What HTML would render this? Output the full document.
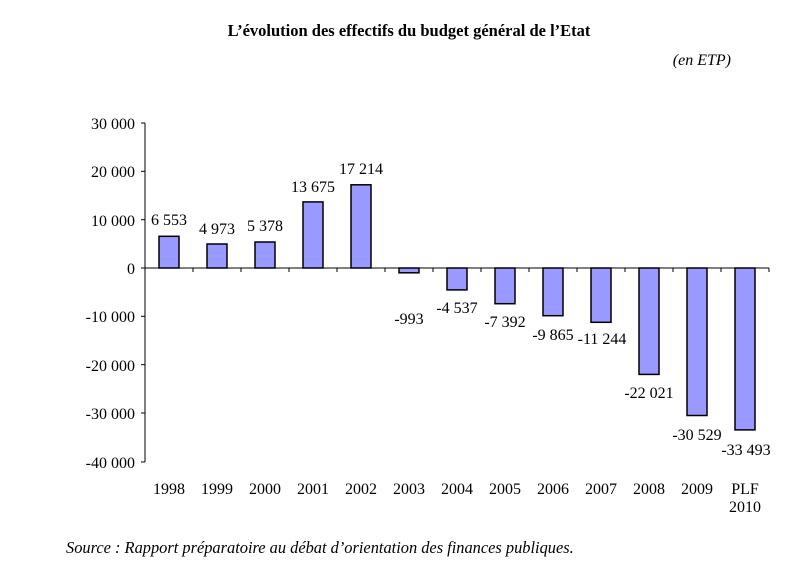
<!DOCTYPE html>
<html><head><meta charset="utf-8"><style>
body{margin:0;background:#fff;}
svg text{font-family:"Liberation Serif",serif;font-size:16px;fill:#000;}
</style></head><body>
<svg width="802" height="579" viewBox="0 0 802 579" xmlns="http://www.w3.org/2000/svg">
<rect width="802" height="579" fill="#fff"/>
<text x="409" y="36" text-anchor="middle" style="font-weight:bold;font-size:16.5px">L’évolution des effectifs du budget général de l’Etat</text>
<text x="731" y="65" text-anchor="end" style="font-style:italic">(en ETP)</text>
<g stroke="#000" stroke-width="1">
<line x1="145" y1="123" x2="145" y2="462"/>
<line x1="141" y1="123" x2="145" y2="123"/>
<line x1="141" y1="171.3" x2="145" y2="171.3"/>
<line x1="141" y1="219.7" x2="145" y2="219.7"/>
<line x1="141" y1="268" x2="145" y2="268"/>
<line x1="141" y1="316.3" x2="145" y2="316.3"/>
<line x1="141" y1="364.7" x2="145" y2="364.7"/>
<line x1="141" y1="413" x2="145" y2="413"/>
<line x1="141" y1="462" x2="145" y2="462"/>
<line x1="145" y1="268" x2="769" y2="268"/>
<path d="M193 268v4M241 268v4M289 268v4M337 268v4M385 268v4M433 268v4M481 268v4M529 268v4M577 268v4M625 268v4M673 268v4M721 268v4M769 268v4"/>
</g>
<g text-anchor="end">
<text x="135" y="129">30 000</text>
<text x="135" y="177">20 000</text>
<text x="135" y="226">10 000</text>
<text x="135" y="274">0</text>
<text x="135" y="322">-10 000</text>
<text x="135" y="371">-20 000</text>
<text x="135" y="419">-30 000</text>
<text x="135" y="468">-40 000</text>
</g>
<g fill="#9999ff" stroke="#000" stroke-width="1.5">
<rect x="159" y="236.3" width="20" height="31.7"/>
<rect x="207" y="244" width="20" height="24"/>
<rect x="255" y="242" width="20" height="26"/>
<rect x="303" y="201.9" width="20" height="66.1"/>
<rect x="351" y="184.8" width="20" height="83.2"/>
<rect x="399" y="268" width="20" height="4.8"/>
<rect x="447" y="268" width="20" height="21.9"/>
<rect x="495" y="268" width="20" height="35.7"/>
<rect x="543" y="268" width="20" height="47.7"/>
<rect x="591" y="268" width="20" height="54.3"/>
<rect x="639" y="268" width="20" height="106.4"/>
<rect x="687" y="268" width="20" height="147.5"/>
<rect x="735" y="268" width="20" height="161.9"/>
</g>
<g text-anchor="middle">
<text x="169" y="225">6 553</text>
<text x="217" y="234">4 973</text>
<text x="265" y="231">5 378</text>
<text x="313" y="192">13 675</text>
<text x="361" y="174">17 214</text>
<text x="409" y="324">-993</text>
<text x="457" y="313">-4 537</text>
<text x="505" y="327">-7 392</text>
<text x="553" y="340">-9 865</text>
<text x="602" y="344">-11 244</text>
<text x="649" y="398">-22 021</text>
<text x="697" y="440">-30 529</text>
<text x="746" y="455">-33 493</text>
<text x="169" y="494">1998</text>
<text x="217" y="494">1999</text>
<text x="265" y="494">2000</text>
<text x="313" y="494">2001</text>
<text x="361" y="494">2002</text>
<text x="409" y="494">2003</text>
<text x="457" y="494">2004</text>
<text x="505" y="494">2005</text>
<text x="553" y="494">2006</text>
<text x="601" y="494">2007</text>
<text x="649" y="494">2008</text>
<text x="697" y="494">2009</text>
<text x="745" y="494">PLF</text>
<text x="745" y="512">2010</text>
</g>
<text x="66" y="553" style="font-style:italic;font-size:16.4px">Source : Rapport préparatoire au débat d’orientation des finances publiques.</text>
</svg>
</body></html>
